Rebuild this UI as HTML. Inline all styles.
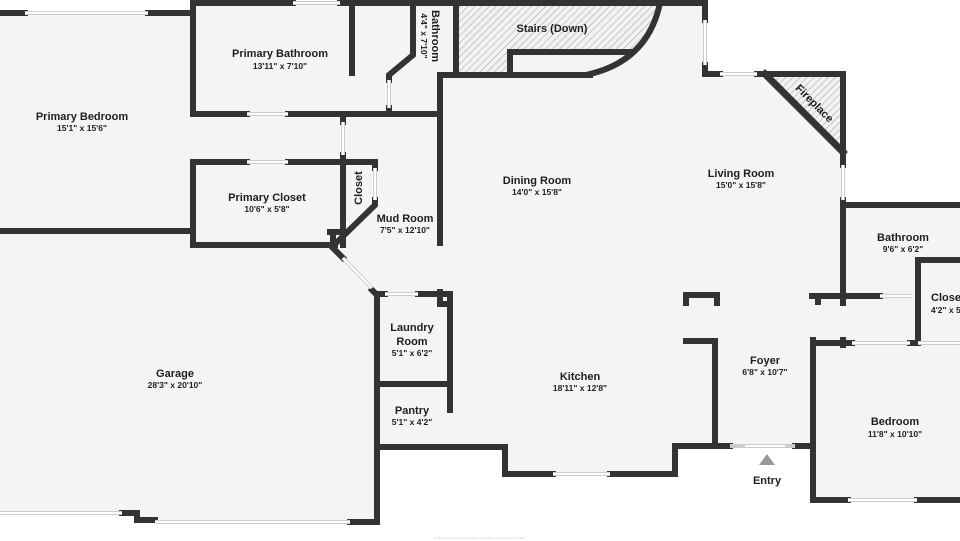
<!DOCTYPE html>
<html><head><meta charset="utf-8"><style>
html,body{margin:0;padding:0;background:#fff}
svg{display:block}
text{font-family:"Liberation Sans","DejaVu Sans",sans-serif;fill:#1e1e1e;text-anchor:middle}
.n{font-size:11px;font-weight:bold}
.d{font-size:8.5px;font-weight:bold}
</style></head><body>
<svg width="960" height="541" viewBox="0 0 960 541" xmlns="http://www.w3.org/2000/svg">
<defs>
<pattern id="h" width="5" height="5" patternUnits="userSpaceOnUse" patternTransform="rotate(45)">
<rect width="5" height="5" fill="#f2f2f2"/><line x1="0" y1="0" x2="0" y2="5" stroke="#aaa" stroke-width="1.2"/>
</pattern>
</defs>
<path fill="#f4f4f4" d="M0 13 H193 V3 H705 V74 H765 L843 152 V205 H960 V500 H813 V446 H715 V446 H675 V474 H505 V447 H377 V522 H137 V513 H0 Z"/>
<path fill="url(#h)" d="M458 6 H660 Q652 44 630 52 H510 V72 H458 Z"/>
<path fill="url(#h)" d="M768 77 H840 V148 Z"/>
<g fill="none" stroke="#333" stroke-width="6" stroke-linecap="square">
<path d="M0 13 H25 M148 13 H193"/>
<path d="M0 231 H193"/>
<path d="M193 3 V114 H247 M288 114 H440 M193 3 H293 M340 3 H456"/>
<path d="M352 3 V73"/>
<path d="M413 3 V55 L389 75 V80"/>
<path d="M389 108 V114"/>
<path d="M440 75 H456"/>
<path d="M440 75 V243"/>
<path d="M343 114 V122 M343 155 V245"/>
<path d="M193 162 V245 H335 M193 162 H247 M288 162 H375 V168 M375 200 V205 L332 247 L343 258"/>
<path d="M330 232 H343 M333 232 V246"/>
<path d="M456 3 H705 V20 M705 65 V74 H720 M757 74 H843 V165 M843 200 V300"/>
<path d="M456 3 V75 H590"/>
<path d="M660 3 Q648 60 590 74" />
<path d="M510 73 V52 H632"/>
<path d="M765 74 L843 152" stroke-width="7"/>
<path d="M843 205 H960"/>
<path d="M918 260 H960 M918 260 V343"/>
<path d="M812 296 H880 M818 296 V302 M843 296 V303"/>
<path d="M813 343 H852 M843 340 V345 M910 343 H918"/>
<path d="M813 340 V500 H848 M917 500 H960"/>
<path d="M686 303 V295 H717 V303"/>
<path d="M686 341 H715 V446 H730"/>
<path d="M795 446 H813"/>
<path d="M675 446 H715 M675 446 V474 H610 M553 474 H505 V447 H377"/>
<path d="M372 290 L377 295 V522 H350 M377 294 H385 M418 294 H450 V410 M377 384 H450"/>
<path d="M440 292 V304 H450"/>
<path d="M122 513 H137 V520 H155"/>
</g>
<g stroke="#ccc" stroke-width="4" fill="none">
<path d="M25 13 H148"/><path d="M293 3 H340"/><path d="M247 114 H288"/><path d="M247 162 H288"/>
<path d="M389 80 V108"/><path d="M343 122 V155"/><path d="M375 168 V200"/>
<path d="M705 20 V65"/><path d="M720 74 H757"/><path d="M843 165 V200"/>
<path d="M880 296 H912"/><path d="M852 343 H910"/><path d="M918 343 H960"/>
<path d="M848 500 H917"/><path d="M553 474 H610"/><path d="M385 294 H418"/>
<path d="M730 446 H795"/><path d="M343 258 L372 288"/>
<path d="M0 513 H122"/><path d="M155 522 H350"/>
</g>
<g stroke="#fff" stroke-width="2" fill="none">
<path d="M25 13 H148"/><path d="M293 3 H340"/><path d="M247 114 H288"/><path d="M247 162 H288"/>
<path d="M389 80 V108"/><path d="M343 122 V155"/><path d="M375 168 V200"/>
<path d="M705 20 V65"/><path d="M720 74 H757"/><path d="M843 165 V200"/>
<path d="M880 296 H912"/><path d="M852 343 H910"/><path d="M918 343 H960"/>
<path d="M848 500 H917"/><path d="M553 474 H610"/><path d="M385 294 H418"/>
<path d="M745 446 H785"/><path d="M343 258 L372 288"/>
<path d="M0 513 H122"/><path d="M155 522 H350"/>
</g>
<polygon points="767,454 759,465 775,465" fill="#999"/>
<text class="n" x="82" y="120">Primary Bedroom</text><text class="d" x="82" y="131">15'1" x 15'6"</text>
<text class="n" x="280" y="57">Primary Bathroom</text><text class="d" x="280" y="69">13'11" x 7'10"</text>
<text class="n" x="552" y="32">Stairs (Down)</text>
<text class="n" x="267" y="201">Primary Closet</text><text class="d" x="267" y="212">10'6" x 5'8"</text>
<text class="n" transform="translate(362,188) rotate(-90)">Closet</text>
<text class="n" transform="translate(432,36) rotate(90)">Bathroom</text>
<text class="d" transform="translate(421,36) rotate(90)">4'4" x 7'10"</text>
<text class="n" transform="translate(812,106) rotate(45)">Fireplace</text>
<text class="n" x="405" y="222">Mud Room</text><text class="d" x="405" y="233">7'5" x 12'10"</text>
<text class="n" x="537" y="184">Dining Room</text><text class="d" x="537" y="195">14'0" x 15'8"</text>
<text class="n" x="741" y="177">Living Room</text><text class="d" x="741" y="188">15'0" x 15'8"</text>
<text class="n" x="903" y="241">Bathroom</text><text class="d" x="903" y="252">9'6" x 6'2"</text>
<text class="n" x="931" y="301" style="text-anchor:start">Closet</text><text class="d" x="931" y="313" style="text-anchor:start">4'2" x 5'1"</text>
<text class="n" x="412" y="331">Laundry</text><text class="n" x="412" y="345">Room</text><text class="d" x="412" y="356">5'1" x 6'2"</text>
<text class="n" x="412" y="414">Pantry</text><text class="d" x="412" y="425">5'1" x 4'2"</text>
<text class="n" x="580" y="380">Kitchen</text><text class="d" x="580" y="391">18'11" x 12'8"</text>
<text class="n" x="765" y="364">Foyer</text><text class="d" x="765" y="375">6'8" x 10'7"</text>
<text class="n" x="895" y="425">Bedroom</text><text class="d" x="895" y="437">11'8" x 10'10"</text>
<text class="n" x="175" y="377">Garage</text><text class="d" x="175" y="388">28'3" x 20'10"</text>
<text class="n" x="767" y="484">Entry</text>
<text x="480" y="539" style="font-size:3px;fill:#ccc">All dimensions are approximate and should be independently verified.</text>
</svg>
</body></html>
